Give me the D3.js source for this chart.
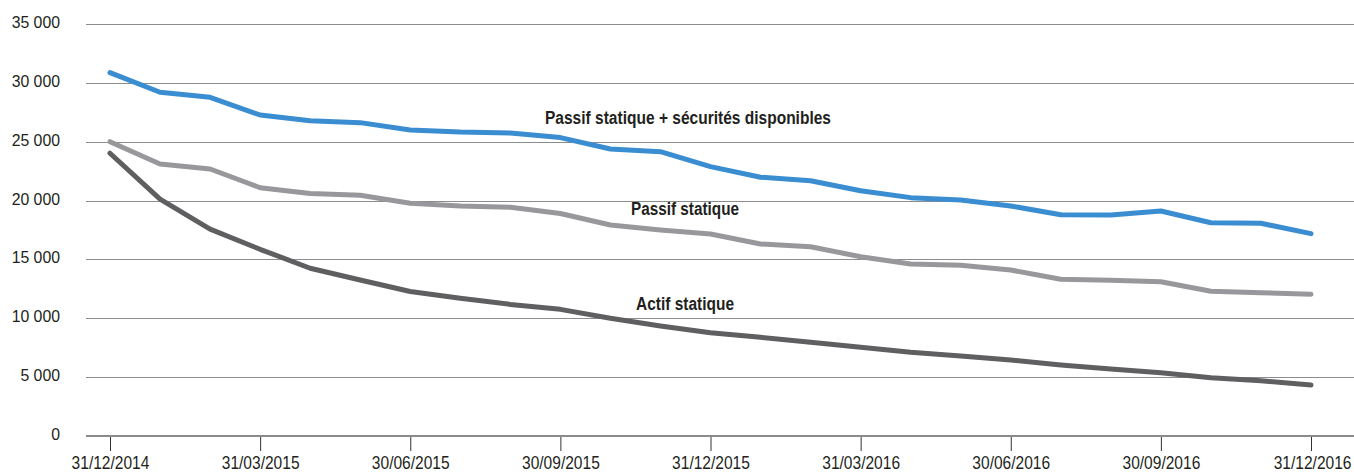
<!DOCTYPE html>
<html>
<head>
<meta charset="utf-8">
<script src="https://cdn.jsdelivr.net/npm/d3@7"></script>
<style>
  body { margin: 0; background: #fff; }
  text { font-family: "Liberation Sans", Arial, sans-serif; fill: #231f20; }
</style>
</head>
<body>
<div id="chart"></div>
<script>
// month ends, 31/12/2014 -> 31/12/2016
const DATES = ["31/12/2014","31/01/2015","28/02/2015","31/03/2015","30/04/2015","31/05/2015",
  "30/06/2015","31/07/2015","31/08/2015","30/09/2015","31/10/2015","30/11/2015","31/12/2015",
  "31/01/2016","29/02/2016","31/03/2016","30/04/2016","31/05/2016","30/06/2016","31/07/2016",
  "31/08/2016","30/09/2016","31/10/2016","30/11/2016","31/12/2016"];
const TICK_LABELS = ["31/12/2014","31/03/2015","30/06/2015","30/09/2015","31/12/2015",
  "31/03/2016","30/06/2016","30/09/2016","31/12/2016"];
const Y_TICKS = [0, 5000, 10000, 15000, 20000, 25000, 30000, 35000];

const PASSIF_SECU = [30870, 29200, 28770, 27270, 26780, 26620, 26000, 25820, 25740, 25350,
  24380, 24150, 22880, 21980, 21690, 20840, 20250, 20050, 19540, 18800, 18770, 19110,
  18120, 18070, 17190];
const PASSIF = [25000, 23100, 22680, 21090, 20610, 20450, 19770, 19540, 19430, 18900,
  17920, 17500, 17160, 16310, 16080, 15230, 14610, 14500, 14100, 13310, 13230, 13110,
  12290, 12170, 12040];
const ACTIF = [24020, 20130, 17580, 15860, 14250, 13250, 12280, 11700, 11180, 10760,
  10000, 9340, 8770, 8380, 7960, 7530, 7110, 6800, 6460, 6030, 5690, 5380, 4950,
  4700, 4330];

const SERIES_NAMES = ["Passif statique + sécurités disponibles", "Passif statique", "Actif statique"];
const SERIES_VALUES = [PASSIF_SECU, PASSIF, ACTIF];

const SVG_WIDTH = 1354;
const SVG_HEIGHT = 476;
const GRID_LEFT = 86;
const X_FIRST = 110;
const X_LAST = 1311;
const Y_TOP = 24;
const Y_BOTTOM = 436;

const COLORS = ["#3a8dd0", "#98989c", "#5f5f61"];
const LABEL_POS = [[688, 124], [685, 215], [685, 310]]; // [x, baseline]
const LABEL_WIDTHS = [286, 108, 98];

// helvetica condensed look: squash glyphs horizontally
function squeeze(sel, factor) {
  sel.each(function() {
    const len = this.getComputedTextLength();
    d3.select(this)
      .attr("textLength", len * factor)
      .attr("lengthAdjust", "spacingAndGlyphs");
  });
}

const svg = d3.select("#chart").append("svg")
  .attr("width", SVG_WIDTH)
  .attr("height", SVG_HEIGHT);

const xScale = d3.scalePoint().domain(DATES).range([X_FIRST, X_LAST]);
const yScale = d3.scaleLinear().domain([0, 35000]).range([Y_BOTTOM, Y_TOP]);

const fmt = v => v === 0 ? "0" : d3.format(",")(v).replace(",", " ");

// gridlines
svg.append("g")
  .selectAll("line")
  .data(Y_TICKS.filter(d => d > 0))
  .join("line")
  .attr("x1", GRID_LEFT)
  .attr("x2", SVG_WIDTH)
  .attr("y1", d => Math.round(yScale(d)) + 0.5)
  .attr("y2", d => Math.round(yScale(d)) + 0.5)
  .attr("stroke", "#8c8c8c")
  .attr("stroke-width", 1);

// y labels
const yLabels = svg.append("g")
  .selectAll("text")
  .data(Y_TICKS)
  .join("text")
  .attr("x", 60)
  .attr("y", d => yScale(d) + 4)
  .attr("text-anchor", "end")
  .style("font-size", "17px")
  .text(fmt);
squeeze(yLabels, 0.93);

// x axis
const xAxis = d3.axisBottom(xScale)
  .tickValues(TICK_LABELS)
  .tickSize(14)
  .tickPadding(5)
  .tickSizeOuter(0);

const xg = svg.append("g")
  .attr("transform", `translate(0, ${Y_BOTTOM + 1})`)
  .call(xAxis)
  .attr("font-family", null)
  .attr("font-size", null);
xg.select(".domain").remove();
xg.selectAll(".tick line").attr("stroke", "#333");
const xLabels = xg.selectAll(".tick text")
  .style("font-size", "18.5px")
  .attr("fill", "#231f20");
squeeze(xLabels, 0.84);

// last label sits against the right edge
xLabels.filter(d => d === TICK_LABELS[TICK_LABELS.length - 1])
  .attr("text-anchor", "end")
  .attr("x", SVG_WIDTH - 3 - X_LAST);

// zero baseline
svg.append("line")
  .attr("x1", GRID_LEFT)
  .attr("x2", SVG_WIDTH)
  .attr("y1", yScale(0))
  .attr("y2", yScale(0))
  .attr("stroke", "#8a8a8a")
  .attr("stroke-width", 2);

// lines
const line = d3.line()
  .x((d, i) => xScale(DATES[i]))
  .y(d => yScale(d));

svg.append("g")
  .selectAll("path")
  .data(SERIES_VALUES)
  .join("path")
  .attr("d", line)
  .attr("fill", "none")
  .attr("stroke", (d, i) => COLORS[i])
  .attr("stroke-width", 5)
  .attr("stroke-linecap", "round")
  .attr("stroke-linejoin", "round");

// series labels
svg.append("g")
  .selectAll("text")
  .data(SERIES_NAMES)
  .join("text")
  .attr("x", (d, i) => LABEL_POS[i][0])
  .attr("y", (d, i) => LABEL_POS[i][1])
  .attr("text-anchor", "middle")
  .attr("textLength", (d, i) => LABEL_WIDTHS[i])
  .attr("lengthAdjust", "spacingAndGlyphs")
  .style("font-size", "18px")
  .style("font-weight", "bold")
  .text(d => d);
</script>
</body>
</html>
